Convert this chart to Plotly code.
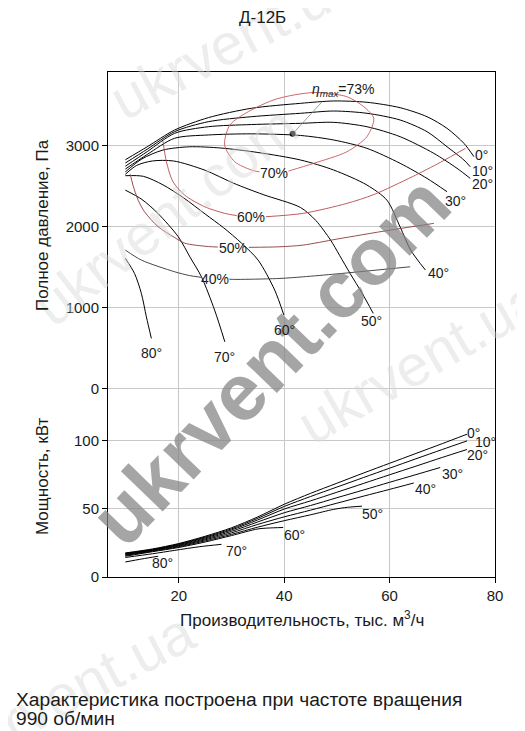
import plotly.graph_objects as go

# ---------------- data ----------------
# Pressure characteristics (Q, тыс. м3/ч -> P, Па) for blade angles
Q_0 = [9.86, 14, 19.2, 25.6, 33.8, 43.1, 49.4, 55.7, 62.0, 67.1, 70.9, 74.1, 76.0]
P_0 = [2830, 2990, 3197, 3350, 3466, 3527, 3556, 3540, 3473, 3362, 3218, 3033, 2868]
Q_10 = [9.86, 14, 19.2, 25.6, 33.8, 43.1, 49.4, 55.7, 62.0, 67.1, 70.9, 74.1, 75.3]
P_10 = [2790, 2960, 3177, 3300, 3362, 3404, 3432, 3404, 3321, 3177, 2991, 2827, 2744]
Q_20 = [9.86, 14, 19.2, 25.6, 33.8, 43.1, 49.4, 55.7, 62.0, 68.4, 72.8, 75.3]
P_20 = [2750, 2930, 3156, 3238, 3265, 3280, 3292, 3238, 3115, 2909, 2724, 2600]
Q_30 = [9.86, 14, 19.2, 25.6, 33.8, 43.1, 49.4, 55.7, 62.0, 67.1, 70.9]
P_30 = [2715, 2895, 3095, 3136, 3150, 3130, 3074, 2971, 2786, 2600, 2435]
Q_40 = [9.86, 13, 17, 22, 28, 35, 43.1, 49.4, 55.7, 59.5, 62.0, 64.0, 66.8]
P_40 = [2680, 2840, 2950, 2990, 2975, 2920, 2827, 2703, 2518, 2330, 2000, 1714, 1468]
Q_50 = [9.86, 12, 15, 19, 25, 30.4, 36, 43.1, 46, 48.8, 50.5, 52.5, 54.8, 56.9]
P_50 = [2650, 2760, 2815, 2815, 2700, 2540, 2400, 2240, 2080, 1838, 1650, 1426, 1180, 932]
Q_60 = [9.86, 13.3, 17, 20.9, 25, 28.5, 31.9, 35.06, 38.2, 39.94]
P_60 = [2633, 2625, 2520, 2360, 2160, 1990, 1800, 1590, 1220, 911]
Q_70 = [9.86, 13, 16, 19.9, 22.2, 24.3, 26.8, 28.74]
P_70 = [2455, 2340, 2170, 1879, 1620, 1384, 973, 581]
Q_80 = [9.86, 11.6, 12.9, 13.85, 14.8]
P_80 = [1612, 1426, 1179, 890, 623]

pressure_curves = [(Q_0, P_0), (Q_10, P_10), (Q_20, P_20), (Q_30, P_30), (Q_40, P_40),
                   (Q_50, P_50), (Q_60, P_60), (Q_70, P_70), (Q_80, P_80)]
angle_labels = ["0°", "10°", "20°", "30°", "40°", "50°", "60°", "70°", "80°"]
angle_label_Q = [77.4, 77.7, 77.6, 72.5, 69.3, 56.5, 40.1, 28.7, 14.8]
angle_label_P = [2889, 2690, 2530, 2320, 1426, 836, 724, 395, 444]

# Efficiency contours (None = gap where the label sits)
EQ_70 = [40.8, 45.6, 51.9, 55.7, 57.0, 55.1, 51.9, 45.6, 38.5, 33.2, 29.7, 28.7, 30.6, 33.8, 35.3]
EP_70 = [2690, 2786, 2929, 3115, 3342, 3485, 3609, 3660, 3580, 3424, 3259, 3012, 2806, 2703, 2680]
EQ_60 = [17.0, 17.65, 18.9, 21.1, 24.9, 28.7, 31.0, None, 36.5, 43.6, 51.9, 57.0, 64.3, 69.7, 74.4]
EP_60 = [3060, 2806, 2559, 2394, 2250, 2168, 2140, None, 2126, 2168, 2291, 2400, 2620, 2800, 2971]
EQ_50 = [10.8, 11.3, 12.3, 13.5, 16.1, 19.2, 21.1, 25.6, 27.4, None, 33.3, 39.2, 43.6, 50, 60, 68.4]
EP_50 = [2650, 2517, 2330, 2188, 2002, 1870, 1800, 1758, 1752, None, 1748, 1755, 1776, 1850, 1960, 2044]
EQ_40 = [9.86, 12.9, 19.24, 22, 24.2, None, 29.6, 30.6, 39.2, 43.6, 50, 63.9]
EP_40 = [1714, 1591, 1446, 1400, 1378, None, 1355, 1352, 1364, 1384, 1420, 1508]
eff_curves = [(EQ_70, EP_70), (EQ_60, EP_60), (EQ_50, EP_50), (EQ_40, EP_40)]
eff_colors = ["#c8575a", "#b84a4c", "#8a3a3a", "#3a3030"]
eff_labels = ["70%", "60%", "50%", "40%"]
eff_label_Q = [38.04, 33.7, 30.3, 26.9]
eff_label_P = [2670, 2126, 1735, 1363]

eta_Q, eta_P = 41.6, 3150
eta_label_Q, eta_label_P = 51.2, 3692
leader_Q = [41.6, 47.2]
leader_P = [3150, 3547]

# Power characteristics (Q -> N, кВт)
NQ_0 = [9.86, 15, 20, 25, 30, 35, 40, 45, 50, 55, 60, 65, 70, 74.7]
N_0 = [17.6, 20.5, 24.5, 29.8, 36.0, 44.0, 53.2, 61.2, 68.6, 76.0, 83.2, 90.4, 97.6, 104.5]
NQ_10 = [9.86, 15, 20, 25, 30, 35, 40, 45, 50, 55, 60, 65, 70, 74.7]
N_10 = [17.3, 20.2, 24.1, 29.2, 35.2, 43.0, 51.6, 58.9, 65.8, 72.7, 79.6, 86.5, 93.3, 99.6]
NQ_20 = [9.86, 15, 20, 25, 30, 35, 40, 45, 50, 55, 60, 65, 70, 74.7]
N_20 = [17.0, 19.9, 23.7, 28.6, 34.4, 41.8, 49.7, 55.7, 62.0, 68.4, 74.8, 81.1, 87.5, 93.3]
NQ_30 = [9.86, 15, 20, 25, 30, 35, 40, 45, 50, 55, 60, 65, 69.6]
N_30 = [16.6, 19.6, 23.2, 27.9, 33.4, 40.3, 47.0, 52.3, 58.0, 63.6, 69.3, 74.9, 80.1]
NQ_40 = [9.86, 15, 20, 25, 30, 35, 40, 45, 50, 55, 60, 64.6]
N_40 = [16.2, 19.3, 22.7, 27.2, 32.3, 38.5, 44.0, 48.9, 54.0, 59.1, 64.1, 68.8]
NQ_50 = [9.86, 15, 20, 25, 30, 35, 40, 45, 49.4, 52, 54.76]
N_50 = [15.8, 18.9, 22.2, 26.4, 31.2, 36.5, 41.2, 45.5, 49.5, 51.0, 51.8]
NQ_60 = [9.86, 15, 20, 25, 30, 35.06, 38, 39.8]
N_60 = [15.2, 18.5, 21.6, 25.6, 30.3, 35.2, 36.0, 36.2]
NQ_70 = [9.86, 15, 19.24, 24, 28.1]
N_70 = [14.3, 17.0, 19.5, 22.2, 23.9]
NQ_80 = [9.86, 13, 16.1]
N_80 = [11.0, 13.2, 15.2]
power_curves = [(NQ_0, N_0), (NQ_10, N_10), (NQ_20, N_20), (NQ_30, N_30), (NQ_40, N_40),
                (NQ_50, N_50), (NQ_60, N_60), (NQ_70, N_70), (NQ_80, N_80)]
power_label_Q = [76.0, 78.2, 76.6, 71.85, 66.8, 56.85, 42.0, 30.94, 17.0]
power_label_N = [105.4, 98.8, 89.1, 75.7, 64.7, 46.4, 30.5, 19.0, 10.2]

x_ticks = [20, 40, 60, 80]
p_ticks = [0, 1000, 2000, 3000]
n_ticks = [0, 50, 100]

# ---------------- figure ----------------
FONT = "Liberation Sans, Arial, sans-serif"
TXT = "#1a1a1a"
GRID = "#c8c8c8"

# page body has an 8px default margin -> figure drawn 8px smaller, offsets reduced accordingly
L, T, PW, PH = 100, 64, 387, 505
W, H = 517, 723


def px_to_paper(px, py):
    # reference pixel coordinates (full window) -> paper coords
    return (px - 8 - L) / PW, (T + PH - (py - 8)) / PH


fig = go.Figure()

for q, p in pressure_curves:
    fig.add_trace(go.Scatter(x=q, y=p, mode="lines", line=dict(color="black", width=1, shape="spline", smoothing=0.8),
                             xaxis="x", yaxis="y", hoverinfo="skip"))
for (q, p), c in zip(eff_curves, eff_colors):
    fig.add_trace(go.Scatter(x=q, y=p, mode="lines", line=dict(color=c, width=0.9, shape="spline", smoothing=0.8),
                             connectgaps=False, xaxis="x", yaxis="y", hoverinfo="skip"))
fig.add_trace(go.Scatter(x=leader_Q, y=leader_P, mode="lines", line=dict(color="#8a8a8a", width=0.8),
                         xaxis="x", yaxis="y", hoverinfo="skip"))
fig.add_trace(go.Scatter(x=[eta_Q], y=[eta_P], mode="markers", marker=dict(color="black", size=6),
                         xaxis="x", yaxis="y", hoverinfo="skip"))
for q, n in power_curves:
    fig.add_trace(go.Scatter(x=q, y=n, mode="lines", line=dict(color="black", width=1, shape="spline", smoothing=0.8),
                             xaxis="x", yaxis="y2", hoverinfo="skip"))

ann = []
# watermarks (reference pixel positions)
wm = [
    ("ukrvent.ua", 235, 40, -28, 58),
    ("ukrvent.com", 165, 215, -38, 58),
    ("ukrvent.ua", 420, 360, -30, 58),
    ("ukrvent.ua", 70, 690, -28, 58),
]
for t, x, y, a, s in wm:
    xp, yp = px_to_paper(x, y)
    ann.append(dict(text=t, x=xp, y=yp, xref="paper", yref="paper", showarrow=False, textangle=a,
                    font=dict(family=FONT, size=s, color="rgba(215,215,215,0.45)"), xanchor="center",
                    yanchor="middle"))
xp, yp = px_to_paper(270, 360)
ann.append(dict(text="<b>ukrvent.com</b>", x=xp, y=yp, xref="paper", yref="paper",
                showarrow=False, textangle=-46, font=dict(family=FONT, size=80, color="rgba(130,130,130,0.72)"),
                xanchor="center", yanchor="middle"))

for t, q, p in zip(angle_labels, angle_label_Q, angle_label_P):
    ann.append(dict(text=t, x=q, y=p, xref="x", yref="y", showarrow=False, xanchor="center", yanchor="middle",
                    font=dict(family=FONT, size=14, color=TXT)))
for t, q, p in zip(eff_labels, eff_label_Q, eff_label_P):
    ann.append(dict(text=t, x=q, y=p, xref="x", yref="y", showarrow=False, xanchor="center", yanchor="middle",
                    font=dict(family=FONT, size=14, color=TXT)))
ann.append(dict(text="<i>η<sub>max</sub></i>=73%", x=eta_label_Q, y=eta_label_P, xref="x", yref="y", showarrow=False,
                xanchor="center", yanchor="middle", font=dict(family=FONT, size=14, color=TXT)))
for t, q, n in zip(angle_labels, power_label_Q, power_label_N):
    ann.append(dict(text=t, x=q, y=n, xref="x", yref="y2", showarrow=False, xanchor="center", yanchor="middle",
                    font=dict(family=FONT, size=14, color=TXT)))

# titles
xp, yp = px_to_paper(262, 18)
ann.append(dict(text="Д-12Б", x=xp, y=yp, xref="paper", yref="paper", showarrow=False,
                xanchor="center", yanchor="middle", font=dict(family=FONT, size=17, color=TXT)))
xp, yp = px_to_paper(42, 225)
ann.append(dict(text="Полное давление, Па", x=xp, y=yp, xref="paper", yref="paper", showarrow=False,
                textangle=-90, xanchor="center", yanchor="middle", font=dict(family=FONT, size=17, color=TXT)))
xp, yp = px_to_paper(42, 477)
ann.append(dict(text="Мощность, кВт", x=xp, y=yp, xref="paper", yref="paper", showarrow=False,
                textangle=-90, xanchor="center", yanchor="middle", font=dict(family=FONT, size=17, color=TXT)))
xp, yp = px_to_paper(302, 619)
ann.append(dict(text="Производительность, тыс. м<sup>3</sup>/ч", x=xp, y=yp, xref="paper", yref="paper",
                showarrow=False, xanchor="center", yanchor="middle", font=dict(family=FONT, size=17, color=TXT)))
for line, py in [("Характеристика построена при частоте вращения", 699), ("990 об/мин", 718)]:
    xp, yp = px_to_paper(14, py)
    ann.append(dict(text=line, x=xp, y=yp, xref="paper", yref="paper", xanchor="left", yanchor="middle",
                    align="left", showarrow=False, font=dict(family=FONT, size=19.2, color=TXT)))

axis_common = dict(showgrid=True, gridcolor=GRID, gridwidth=1, zeroline=False, ticks="outside", ticklen=5,
                   tickcolor="black", tickfont=dict(family=FONT, size=15, color=TXT))
fig.update_layout(
    width=W, height=H, margin=dict(l=L, r=W - L - PW, t=T, b=H - T - PH, autoexpand=False),
    plot_bgcolor="white", paper_bgcolor="white", showlegend=False,
    font=dict(family=FONT, size=15, color=TXT),
    xaxis=dict(range=[6.57, 80], tickvals=x_ticks, showline=True, linecolor="black", linewidth=1, mirror=True,
               **axis_common),
    yaxis=dict(range=[-2324, 3914], tickvals=p_ticks, showline=True, linecolor="black", linewidth=1, mirror=True,
               **axis_common),
    yaxis2=dict(range=[0, 369.5], tickvals=n_ticks, overlaying="y", side="left", showline=False, **axis_common),
    annotations=ann,
)

fig.write_html("out.html")
